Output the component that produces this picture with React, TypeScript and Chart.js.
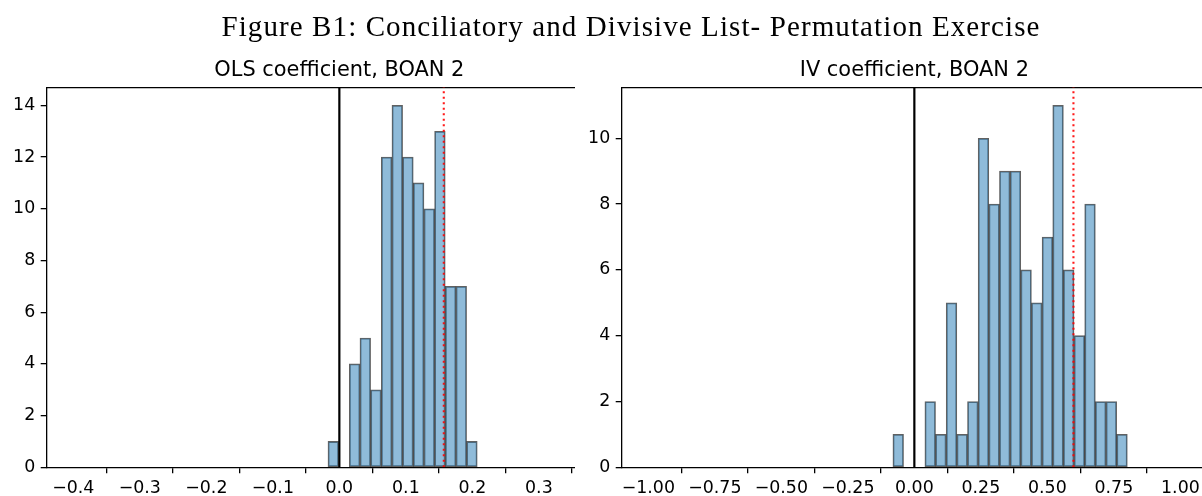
import React, { useEffect, useRef } from "react";
import { Chart, registerables } from "chart.js";

Chart.register(...registerables);

// ---------- figure text ----------
const figureTitle = "Figure B1: Conciliatory and Divisive List- Permutation Exercise";

// ---------- left panel: OLS ----------
const olsTitle = "OLS coefficient, BOAN 2";
const olsBinCenters = [
  -0.0091, 0.0069, 0.023, 0.039, 0.055, 0.0711, 0.0871, 0.1031, 0.1192, 0.1352,
  0.1512, 0.1673, 0.1833, 0.1993,
];
const olsCounts = [1, 0, 4, 5, 3, 12, 14, 12, 11, 10, 13, 7, 7, 1];
const olsObserved = 0.157;
const olsXTicks = [-0.4, -0.3, -0.2, -0.1, 0, 0.1, 0.2, 0.3, 0.4];
const olsYTicks = [0, 2, 4, 6, 8, 10, 12, 14];
const olsXMin = -0.44;
const olsXMax = 0.44;
const olsYMax = 14.7;

// ---------- right panel: IV ----------
const ivTitle = "IV coefficient, BOAN 2";
const ivBinCenters = [
  -0.0606, -0.0205, 0.0195, 0.0596, 0.0996, 0.1397, 0.1797, 0.2198, 0.2598, 0.2999,
  0.3399, 0.38, 0.42, 0.4601, 0.5001, 0.5402, 0.5802, 0.6203, 0.6603, 0.7004,
  0.7404, 0.7805,
];
const ivCounts = [1, 0, 0, 2, 1, 5, 1, 2, 10, 8, 9, 9, 6, 5, 7, 11, 6, 4, 8, 2, 2, 1];
const ivObserved = 0.598;
const ivXTicks = [-1, -0.75, -0.5, -0.25, 0, 0.25, 0.5, 0.75, 1];
const ivYTicks = [0, 2, 4, 6, 8, 10];
const ivXMin = -1.1;
const ivXMax = 1.1;
const ivYMax = 11.55;

const nullLine = 0;

const fmt = (v: number, d: number) => {
  const s = Math.abs(v).toFixed(d);
  return (v < -1e-9 ? "\u2212" : "") + s;
};

const tickFont = { family: "'DejaVu Sans', sans-serif", size: 17.4 };

type PanelProps = {
  title: string;
  centers: number[];
  counts: number[];
  observed: number;
  xTicks: number[];
  yTicks: number[];
  xMin: number;
  xMax: number;
  yMax: number;
  decimals: number;
  left: number;
};

function Panel(p: PanelProps) {
  const ref = useRef<HTMLCanvasElement | null>(null);
  useEffect(() => {
    if (!ref.current) return;
    const chart = new Chart(ref.current, {
      type: "bar",
      data: {
        datasets: [
          {
            type: "line",
            data: [
              { x: nullLine, y: 0 },
              { x: nullLine, y: p.yMax },
            ],
            borderColor: "#000",
            borderWidth: 2.2,
            pointRadius: 0,
            order: 1,
          } as any,
          {
            type: "line",
            data: [
              { x: p.observed, y: 0 },
              { x: p.observed, y: p.yMax },
            ],
            borderColor: "rgba(255,0,0,0.9)",
            borderWidth: 2.1,
            borderDash: [2.1, 3.4],
            borderCapStyle: "butt",
            pointRadius: 0,
            order: 0,
          } as any,
          {
            type: "bar",
            data: p.centers.map((c, i) => ({ x: c, y: p.counts[i] })),
            backgroundColor: "rgba(31,119,180,0.5)",
            borderColor: "rgba(0,0,0,0.62)",
            borderWidth: 1.1,
            borderSkipped: false,
            barPercentage: 1,
            categoryPercentage: 1,
            order: 2,
          } as any,
        ],
      },
      options: {
        animation: false,
        responsive: false,
        maintainAspectRatio: false,
        devicePixelRatio: 1,
        events: [],
        layout: { padding: { top: 58, left: 0, right: 8, bottom: 0 } },
        plugins: {
          legend: { display: false },
          tooltip: { enabled: false },
          title: {
            display: true,
            text: p.title,
            fullSize: false,
            color: "#000",
            font: { family: "'DejaVu Sans', sans-serif", size: 20.9, weight: "normal", lineHeight: 1.2 },
            padding: { top: 0, bottom: 4.2 },
          },
        },
        scales: {
          x: {
            type: "linear",
            position: "bottom",
            min: p.xMin,
            max: p.xMax,
            offset: false,
            afterBuildTicks: (s: any) => {
              s.ticks = p.xTicks.map((v) => ({ value: v }));
            },
            afterFit: (s: any) => {
              s.height = 28.7;
            },
            ticks: {
              callback: (v: any) => fmt(Number(v), p.decimals),
              font: tickFont,
              color: "#000",
              padding: 4.5,
              maxRotation: 0,
              autoSkip: false,
            },
            grid: {
              display: true,
              drawOnChartArea: false,
              drawTicks: true,
              tickLength: 6,
              color: "#000",
              lineWidth: 1.3,
            },
            border: { display: true, color: "#000", width: 1.3 },
          },
          xTop: {
            type: "linear",
            position: "top",
            min: p.xMin,
            max: p.xMax,
            offset: false,
            afterFit: (s: any) => {
              s.height = 0;
            },
            ticks: { display: false },
            grid: { display: false },
            border: { display: true, color: "#000", width: 1.3 },
          },
          y: {
            type: "linear",
            min: 0,
            max: p.yMax,
            afterBuildTicks: (s: any) => {
              s.ticks = p.yTicks.map((v) => ({ value: v }));
            },
            afterFit: (s: any) => {
              s.width = 46.7;
            },
            ticks: {
              callback: (v: any) => fmt(Number(v), 0),
              font: tickFont,
              color: "#000",
              padding: 5.5,
            },
            grid: {
              display: true,
              drawOnChartArea: false,
              drawTicks: true,
              tickLength: 6,
              color: "#000",
              lineWidth: 1.3,
            },
            border: { display: true, color: "#000", width: 1.3 },
          },
        },
      } as any,
    });
    return () => chart.destroy();
  }, []);
  return (
    <canvas
      ref={ref}
      width={640}
      height={496}
      style={{
        position: "absolute",
        left: p.left,
        top: 0,
        width: 640,
        height: 496,
        background: "#fff",
      }}
    />
  );
}

export default function App() {
  return (
    <div
      style={{
        position: "absolute",
        left: 0,
        top: 0,
        width: 1202,
        height: 496,
        overflow: "hidden",
        background: "#fff",
      }}
    >
      <Panel
        title={olsTitle}
        centers={olsBinCenters}
        counts={olsCounts}
        observed={olsObserved}
        xTicks={olsXTicks}
        yTicks={olsYTicks}
        xMin={olsXMin}
        xMax={olsXMax}
        yMax={olsYMax}
        decimals={1}
        left={0}
      />
      <Panel
        title={ivTitle}
        centers={ivBinCenters}
        counts={ivCounts}
        observed={ivObserved}
        xTicks={ivXTicks}
        yTicks={ivYTicks}
        xMin={ivXMin}
        xMax={ivXMax}
        yMax={ivYMax}
        decimals={2}
        left={575}
      />
      <div
        style={{
          position: "absolute",
          left: 0,
          top: 12,
          width: 1262,
          textAlign: "center",
          fontFamily: "'Liberation Serif', serif",
          fontSize: 29,
          lineHeight: "29px",
          color: "#000",
          whiteSpace: "nowrap",
          letterSpacing: 1.1,
        }}
      >
        {figureTitle}
      </div>
    </div>
  );
}
